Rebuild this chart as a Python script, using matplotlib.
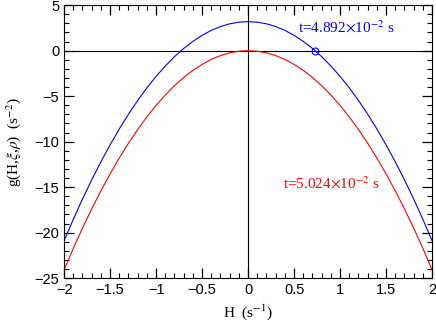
import matplotlib
matplotlib.use('Agg')
import matplotlib.pyplot as plt
from matplotlib.ticker import MultipleLocator

# values, H in s^-1, g in s^-2
H = [-2.0, -1.9, -1.8, -1.7, -1.6, -1.5, -1.4, -1.3, -1.2, -1.1, -1.0,
     -0.9, -0.8, -0.7, -0.6, -0.5, -0.4, -0.3, -0.2, -0.1, 0.0,
     0.1, 0.2, 0.3, 0.4, 0.5, 0.6, 0.7, 0.8, 0.9, 1.0,
     1.1, 1.2, 1.3, 1.4, 1.5, 1.6, 1.7, 1.8, 1.9, 2.0]
g_blue = [-20.89, -18.54, -16.31, -14.21, -12.22, -10.36, -8.61, -6.98, -5.48, -4.09, -2.83,
          -1.69, -0.66, 0.24, 1.02, 1.68, 2.23, 2.65, 2.95, 3.13, 3.19,
          3.13, 2.95, 2.65, 2.23, 1.68, 1.02, 0.24, -0.66, -1.69, -2.83,
          -4.09, -5.48, -6.98, -8.61, -10.36, -12.22, -14.21, -16.31, -18.54, -20.89]
g_red = [-24.08, -21.73, -19.50, -17.40, -15.41, -13.55, -11.80, -10.17, -8.67, -7.28, -6.02,
         -4.88, -3.85, -2.95, -2.17, -1.51, -0.96, -0.54, -0.24, -0.06, 0.0,
         -0.06, -0.24, -0.54, -0.96, -1.51, -2.17, -2.95, -3.85, -4.88, -6.02,
         -7.28, -8.67, -10.17, -11.80, -13.55, -15.41, -17.40, -19.50, -21.73, -24.08]
root_H = 0.728
label_blue = r't=4.892$\times$10$^{-2}$ s'
label_red = r't=5.024$\times$10$^{-2}$ s'

plt.rcParams['mathtext.fontset'] = 'stix'
serif = ['Liberation Serif', 'DejaVu Serif']

fig = plt.figure(figsize=(4.36, 3.23), dpi=100)
ax = fig.add_axes([0.147, 0.139, 0.844, 0.845])

ax.axhline(0, color='black', lw=0.8)
ax.axvline(0, color='black', lw=0.8)
ax.plot(H, g_blue, color='blue', lw=0.8)
ax.plot(H, g_red, color='red', lw=0.8)
ax.plot([root_H], [0], 'o', mfc='none', mec='blue', ms=5, mew=0.8)

ax.text(1.07, 2.5, label_blue, color='blue', fontsize=11, family=serif, ha='center', va='center')
ax.text(0.91, -14.6, label_red, color='red', fontsize=11, family=serif, ha='center', va='center')

ax.set_xlim(-2, 2)
ax.set_ylim(-25, 5)
ax.xaxis.set_major_locator(MultipleLocator(0.5))
ax.xaxis.set_minor_locator(MultipleLocator(0.1))
ax.yaxis.set_major_locator(MultipleLocator(5))
ax.yaxis.set_minor_locator(MultipleLocator(1))
ax.tick_params(which='both', direction='in', top=True, right=True, labelsize=10.5)
ax.tick_params(which='major', length=7, width=0.9)
ax.tick_params(which='minor', length=3.5, width=0.8)
for lab in ax.get_xticklabels() + ax.get_yticklabels():
    lab.set_family(['Liberation Sans', 'DejaVu Sans'])
ax.xaxis.set_major_formatter(plt.FuncFormatter(lambda v, p: ('%g' % v).replace('-', '\u2212')))
ax.yaxis.set_major_formatter(plt.FuncFormatter(lambda v, p: ('%g' % v).replace('-', '\u2212')))

ax.set_xlabel(r'H  (s$^{-1}$)', fontsize=11, family=serif)
ax.set_ylabel(r'g(H,$\xi$,$\rho$)  (s$^{-2}$)', fontsize=11, family=serif, labelpad=8)

fig.savefig('out.png', dpi=100)
